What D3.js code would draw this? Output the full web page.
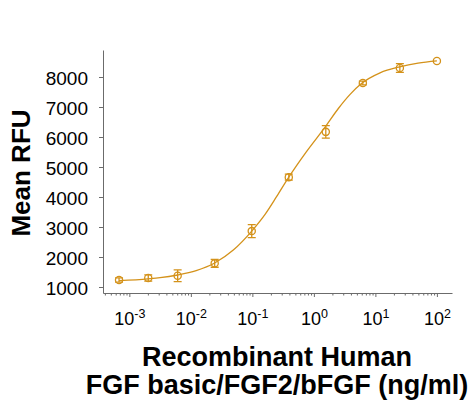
<!DOCTYPE html>
<html>
<head>
<meta charset="utf-8">
<script src="https://cdn.jsdelivr.net/npm/d3@7"></script>
<style>
  html, body { margin: 0; padding: 0; background: #fff; }
  svg { display: block; font-family: "Liberation Sans", Arial, sans-serif; }
  .axis path, .axis line { stroke: #6b6b6b; }
</style>
</head>
<body>
<svg id="chart" width="474" height="405"></svg>
<script>
// dose (ng/ml) and response
const concentrations = [0.00068, 0.00203, 0.0061, 0.0244, 0.0977, 0.391, 1.5625, 6.25, 25, 100];
const meanRFU = [1233, 1300, 1376, 1789, 2864, 4662, 6171, 7800, 8300, 8533];
const errorRFU = [70, 105, 195, 130, 215, 100, 210, 65, 145, 0];

// fitted curve
const curveConc = [0.00068, 0.00201, 0.00316, 0.0061, 0.0122, 0.0244, 0.049, 0.0977, 0.162, 0.249, 0.391, 0.738, 1.52, 2.5, 3.88, 6.0, 11.9, 24.8, 49.4, 100];
const curveRFU = [1210, 1273, 1310, 1400, 1545, 1800, 2232, 2864, 3430, 4020, 4662, 5480, 6330, 6950, 7420, 7790, 8140, 8340, 8465, 8540];

const yTicks = [1000, 2000, 3000, 4000, 5000, 6000, 7000, 8000];
const xMajor = [-3, -2, -1, 0, 1, 2];

const color = "#d4921a";
const svg = d3.select("#chart");

const x = d3.scaleLog().domain([3.73e-4, 176]).range([103, 452]);
const y = d3.scaleLinear().domain([800, 8900]).range([293, 50]);

// y axis
const yAxis = svg.append("g")
  .attr("class", "axis")
  .attr("transform", "translate(103,0)")
  .call(d3.axisLeft(y).tickValues(yTicks).tickSize(4).tickPadding(11).tickSizeOuter(0).tickFormat(d3.format("d")));
yAxis.selectAll("text")
  .attr("font-size", 19)
  .attr("fill", "#000")
  .attr("dy", "0.42em")
  .style("font-family", "'Liberation Sans', Arial, sans-serif");

// x axis, minor ticks first
const minorTicks = [];
for (let e = -4; e <= 2; e++) {
  for (let m = 2; m <= 9; m++) {
    const v = m * Math.pow(10, e);
    if (v > x.domain()[0] && v < x.domain()[1]) minorTicks.push(v);
  }
}
svg.append("g")
  .attr("class", "axis")
  .attr("transform", "translate(0,293)")
  .call(d3.axisBottom(x).tickValues(minorTicks).tickSize(2.5).tickFormat(""))
  .select(".domain").remove();

const xAxis = svg.append("g")
  .attr("class", "axis")
  .attr("transform", "translate(0,293)")
  .call(d3.axisBottom(x).tickValues(xMajor.map((e) => Math.pow(10, e))).tickSize(4).tickSizeOuter(0).tickFormat(""));

xAxis.selectAll(".tick").each(function (d) {
  const t = d3.select(this).append("text")
    .attr("y", 31.5)
    .attr("text-anchor", "middle")
    .attr("fill", "#000")
    .attr("font-size", 18)
    .style("font-family", "'Liberation Sans', Arial, sans-serif");
  t.append("tspan").text("10");
  t.append("tspan").attr("font-size", 12.5).attr("dy", -7).text(Math.round(Math.log10(d)));
});

// fitted curve
svg.append("path")
  .datum(curveConc.map((c, i) => [c, curveRFU[i]]))
  .attr("fill", "none")
  .attr("stroke", color)
  .attr("stroke-width", 1.3)
  .attr("d", d3.line().x((d) => x(d[0])).y((d) => y(d[1])).curve(d3.curveMonotoneX));

// error bars + markers
const pts = concentrations.map((c, i) => ({ c, v: meanRFU[i], e: errorRFU[i] }));
const pt = svg.append("g").selectAll("g").data(pts).join("g")
  .attr("stroke", color)
  .attr("stroke-width", 1.3)
  .attr("fill", "none");

pt.filter((d) => d.e > 0).append("path")
  .attr("d", (d) => {
    const cx = x(d.c), top = y(d.v + d.e), bot = y(d.v - d.e);
    return `M${cx},${top}V${bot}M${cx - 4},${top}H${cx + 4}M${cx - 4},${bot}H${cx + 4}`;
  });

pt.append("circle")
  .attr("cx", (d) => x(d.c))
  .attr("cy", (d) => y(d.v))
  .attr("r", 3.6);

// titles
svg.append("text")
  .attr("transform", "translate(29.5,173) rotate(-90)")
  .attr("text-anchor", "middle")
  .attr("font-size", 26)
  .attr("font-weight", "bold")
  .text("Mean RFU");

const xt = svg.append("text")
  .attr("text-anchor", "middle")
  .attr("font-size", 27)
  .attr("font-weight", "bold");
xt.append("tspan").attr("x", 277).attr("y", 366).text("Recombinant Human");
xt.append("tspan").attr("x", 277).attr("y", 393.5).text("FGF basic/FGF2/bFGF (ng/ml)");
</script>
</body>
</html>
